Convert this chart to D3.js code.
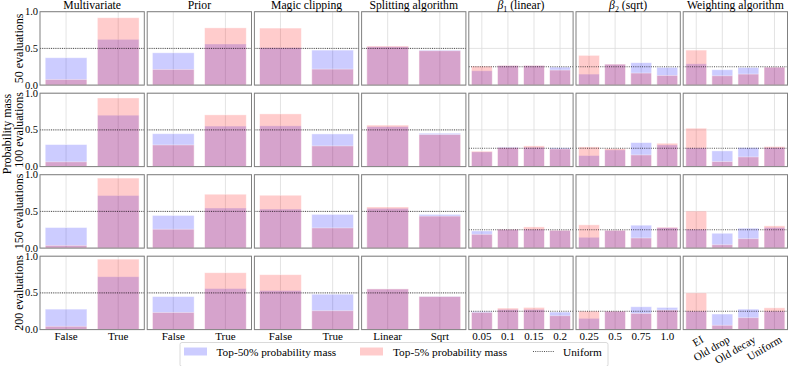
<!DOCTYPE html>
<html>
<head>
<meta charset="utf-8">
<script src="https://cdn.jsdelivr.net/npm/d3@7"></script>
<style>
  html, body { margin: 0; padding: 0; background: #fff; }
  svg { display: block; }
</style>
</head>
<body>
<svg id="chart" width="797" height="366"></svg>
<script>
// ---------------- data ----------------
const panelTitles = ["Multivariate", "Prior", "Magic clipping", "Splitting algorithm", "β1 (linear)", "β2 (sqrt)", "Weighting algorithm"];
const categories = [
  ["False", "True"],
  ["False", "True"],
  ["False", "True"],
  ["Linear", "Sqrt"],
  ["0.05", "0.1", "0.15", "0.2"],
  ["0.25", "0.5", "0.75", "1.0"],
  ["EI", "Old drop", "Old decay", "Uniform"]
];
const rowLabels = ["50 evaluations", "100 evaluations", "150 evaluations", "200 evaluations"];
const yTicks = [0.0, 0.5, 1.0];

// Top-50% probability mass, per row (evaluations) then per panel
const top50Eval50 = [[0.373, 0.623], [0.44, 0.56], [0.51, 0.477], [0.523, 0.477], [0.195, 0.268, 0.268, 0.245], [0.15, 0.286, 0.305, 0.241], [0.29, 0.209, 0.24, 0.245]];
const top50Eval100 = [[0.30, 0.70], [0.448, 0.552], [0.555, 0.445], [0.545, 0.455], [0.20, 0.268, 0.264, 0.255], [0.15, 0.227, 0.327, 0.295], [0.255, 0.214, 0.259, 0.259]];
const top50Eval150 = [[0.28, 0.716], [0.445, 0.546], [0.532, 0.459], [0.541, 0.459], [0.234, 0.257, 0.257, 0.243], [0.147, 0.243, 0.312, 0.28], [0.257, 0.202, 0.271, 0.28]];
const top50Eval200 = [[0.279, 0.72], [0.45, 0.559], [0.532, 0.482], [0.554, 0.455], [0.248, 0.275, 0.275, 0.239], [0.153, 0.252, 0.311, 0.302], [0.252, 0.212, 0.279, 0.252]];

// Top-5% probability mass
const top5Eval50 = [[0.077, 0.918], [0.214, 0.78], [0.777, 0.218], [0.532, 0.468], [0.259, 0.268, 0.268, 0.205], [0.405, 0.286, 0.164, 0.132], [0.477, 0.127, 0.15, 0.245]];
const top5Eval100 = [[0.065, 0.935], [0.295, 0.705], [0.718, 0.282], [0.565, 0.436], [0.209, 0.26, 0.282, 0.24], [0.268, 0.245, 0.159, 0.318], [0.523, 0.068, 0.132, 0.273]];
const top5Eval150 = [[0.037, 0.954], [0.257, 0.734], [0.72, 0.275], [0.56, 0.436], [0.188, 0.257, 0.289, 0.243], [0.317, 0.243, 0.138, 0.284], [0.505, 0.046, 0.128, 0.303]];
const top5Eval200 = [[0.045, 0.96], [0.234, 0.775], [0.748, 0.257], [0.554, 0.45], [0.234, 0.293, 0.302, 0.189], [0.252, 0.252, 0.221, 0.266], [0.50, 0.059, 0.162, 0.297]];

const top50 = [top50Eval50, top50Eval100, top50Eval150, top50Eval200];
const top5 = [top5Eval50, top5Eval100, top5Eval150, top5Eval200];
const legendLabels = ["Top-50% probability mass", "Top-5% probability mass", "Uniform"];

// ---------------- layout ----------------
const FONT = "'Liberation Serif', 'Times New Roman', Times, 'DejaVu Serif', serif";
const svg = d3.select("#chart").attr("font-family", FONT);
const gridLeft = 40, pw = 104.3, gapX = 2.9;
const gridTop = 11.7, ph = 73.4, pitchY = 81.5;
const blue = "#0000ff", red = "#ff0000";
const borderColor = "#808080", gridColor = "#dcdcdc";

const yScale = d3.scaleLinear().domain([0, 1]);

rowLabels.forEach((rowLabel, r) => {
  const y0 = gridTop + r * pitchY;
  const y = yScale.copy().range([y0 + ph, y0]);
  categories.forEach((cats, p) => {
    const x0 = gridLeft + p * (pw + gapX);
    const x = d3.scaleLinear().domain([-0.5, cats.length - 0.5]).range([x0, x0 + pw]);
    const g = svg.append("g");
    // grid
    g.selectAll("line.vg").data(cats).enter().append("line")
      .attr("x1", (d, i) => x(i)).attr("x2", (d, i) => x(i))
      .attr("y1", y(0)).attr("y2", y(1))
      .attr("stroke", gridColor).attr("stroke-width", 0.8);
    g.selectAll("line.hg").data(yTicks).enter().append("line")
      .attr("x1", x0).attr("x2", x0 + pw)
      .attr("y1", d => y(d)).attr("y2", d => y(d))
      .attr("stroke", gridColor).attr("stroke-width", 0.8);
    const bw = x(0.4) - x(-0.4);
    // blue bars
    g.selectAll("rect.b").data(top50[r][p]).enter().append("rect")
      .attr("x", (d, i) => x(i - 0.4)).attr("width", bw)
      .attr("y", d => y(d)).attr("height", d => y(0) - y(d))
      .attr("fill", blue).attr("fill-opacity", 0.2)
      .attr("stroke", "#fff").attr("stroke-opacity", 0.5).attr("stroke-width", 0.8);
    // red bars
    g.selectAll("rect.r").data(top5[r][p]).enter().append("rect")
      .attr("x", (d, i) => x(i - 0.4)).attr("width", bw)
      .attr("y", d => y(d)).attr("height", d => y(0) - y(d))
      .attr("fill", red).attr("fill-opacity", 0.2)
      .attr("stroke", "#fff").attr("stroke-opacity", 0.5).attr("stroke-width", 0.8);
    // uniform line
    const u = 1 / cats.length;
    g.append("line")
      .attr("x1", x0).attr("x2", x0 + pw)
      .attr("y1", y(u)).attr("y2", y(u))
      .attr("stroke", "#000").attr("stroke-width", 0.8)
      .attr("stroke-dasharray", "1,1.2").attr("stroke-opacity", 0.85);
    // border
    g.append("rect").attr("x", x0).attr("y", y0).attr("width", pw).attr("height", ph)
      .attr("fill", "none").attr("stroke", borderColor).attr("stroke-width", 1);

    // titles
    if (r === 0) {
      const t = g.append("text").attr("x", x0 + pw / 2).attr("y", 9)
        .attr("text-anchor", "middle").attr("font-size", 11.7);
      if (p === 4 || p === 5) {
        t.append("tspan").attr("font-style", "italic").text("β");
        t.append("tspan").attr("font-size", 8).attr("dy", 2.5).text(p === 4 ? "1" : "2");
        t.append("tspan").attr("dy", -2.5).text(p === 4 ? " (linear)" : " (sqrt)");
      } else {
        t.text(panelTitles[p]);
      }
    }
    // y tick labels
    if (p === 0) {
      g.selectAll("text.yt").data(yTicks).enter().append("text")
        .attr("x", 38).attr("y", d => y(d)).attr("dy", "0.33em")
        .attr("text-anchor", "end").attr("font-size", 10.5)
        .text(d => d.toFixed(1));
    }
    // x tick labels
    if (r === 3) {
      if (p === 6) {
        g.selectAll("text.xt").data(cats).enter().append("text")
          .attr("transform", (d, i) => `translate(${x(i) + 4},${y(0) + 5}) rotate(-30)`)
          .attr("text-anchor", "end").attr("dy", "0.75em").attr("font-size", 11)
          .text(d => d);
      } else {
        g.selectAll("text.xt").data(cats).enter().append("text")
          .attr("x", (d, i) => x(i)).attr("y", y(0) + 10.5)
          .attr("text-anchor", "middle").attr("font-size", 11)
          .text(d => d);
      }
    }
  });
  // row label
  svg.append("text")
    .attr("transform", `translate(22.5,${y0 + ph / 2}) rotate(-90)`)
    .attr("text-anchor", "middle").attr("font-size", 12)
    .text(rowLabel);
});

// super y label
svg.append("text")
  .attr("transform", `translate(10.5,134) rotate(-90)`)
  .attr("text-anchor", "middle").attr("font-size", 12)
  .text("Probability mass");

// legend
const lg = svg.append("g");
lg.append("rect").attr("x", 180).attr("y", 342.5).attr("width", 428).attr("height", 24)
  .attr("rx", 2).attr("fill", "#fff").attr("stroke", "#d0d0d0").attr("stroke-width", 0.8);
lg.append("rect").attr("x", 184).attr("y", 347.5).attr("width", 23).attr("height", 8)
  .attr("fill", blue).attr("fill-opacity", 0.2);
lg.append("text").attr("x", 216.5).attr("y", 356).attr("font-size", 11.3).text(legendLabels[0]);
lg.append("rect").attr("x", 360).attr("y", 347.5).attr("width", 23).attr("height", 8)
  .attr("fill", red).attr("fill-opacity", 0.2);
lg.append("text").attr("x", 393).attr("y", 356).attr("font-size", 11.3).text(legendLabels[1]);
lg.append("line").attr("x1", 533).attr("x2", 555).attr("y1", 351.5).attr("y2", 351.5)
  .attr("stroke", "#000").attr("stroke-width", 0.8).attr("stroke-dasharray", "1,1.2").attr("stroke-opacity", 0.85);
lg.append("text").attr("x", 563).attr("y", 356).attr("font-size", 11.3).text(legendLabels[2]);
</script>
</body>
</html>
